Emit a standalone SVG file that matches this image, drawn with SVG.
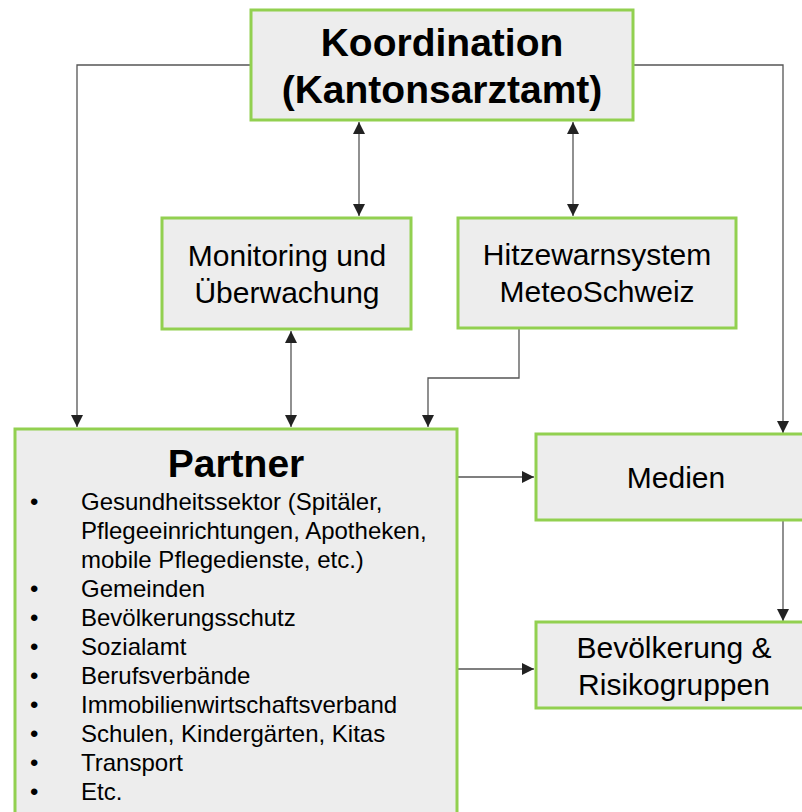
<svg xmlns="http://www.w3.org/2000/svg" width="802" height="812" viewBox="0 0 802 812">
<style>
.box{fill:#EDEDED;stroke:#92D050;stroke-width:3}
.t{font-family:"Liberation Sans",Arial,sans-serif;fill:#000}
.c{text-anchor:middle}
.title{font-size:39px;font-weight:bold}
.lbl{font-size:30px}
.li{font-size:24px}
.con{fill:none;stroke:#555;stroke-width:1.3}
</style>
<defs>
<marker id="ah" viewBox="0 0 12 12" refX="12" refY="6" markerWidth="12" markerHeight="12" markerUnits="userSpaceOnUse" orient="auto-start-reverse">
<path d="M0,0 L12,6 L0,12 z" fill="#222"/>
</marker>
</defs>
<g id="connectors">
<path class="con" d="M251,65 H77 V427" marker-end="url(#ah)"/>
<path class="con" d="M633,65 H783 V433" marker-end="url(#ah)"/>
<path class="con" d="M359,122 V216" marker-start="url(#ah)" marker-end="url(#ah)"/>
<path class="con" d="M573,122 V216" marker-start="url(#ah)" marker-end="url(#ah)"/>
<path class="con" d="M291,331 V427" marker-start="url(#ah)" marker-end="url(#ah)"/>
<path class="con" d="M519,329 V378 H428 V427" marker-end="url(#ah)"/>
<path class="con" d="M458,477 H534" marker-end="url(#ah)"/>
<path class="con" d="M458,669 H534" marker-end="url(#ah)"/>
<path class="con" d="M783,521 V621" marker-end="url(#ah)"/>
</g>
<g id="koordination">
<rect class="box" x="251" y="10" width="382" height="110"/>
<text class="t c title" x="442" y="56">Koordination</text>
<text class="t c title" x="442" y="103">(Kantonsarztamt)</text>
</g>
<g id="monitoring">
<rect class="box" x="162" y="218" width="249" height="111"/>
<text class="t c lbl" x="287" y="266">Monitoring und</text>
<text class="t c lbl" x="287" y="303">Überwachung</text>
</g>
<g id="hitzewarnsystem">
<rect class="box" x="458" y="218" width="278" height="110"/>
<text class="t c lbl" x="597" y="265">Hitzewarnsystem</text>
<text class="t c lbl" x="597" y="302">MeteoSchweiz</text>
</g>
<g id="partner">
<rect class="box" x="15" y="429" width="442" height="400"/>
<text class="t c title" x="236" y="477">Partner</text>
<g class="t li">
<text x="30" y="510">•</text><text x="81" y="510">Gesundheitssektor (Spitäler,</text>
<text x="81" y="539">Pflegeeinrichtungen, Apotheken,</text>
<text x="81" y="568">mobile Pflegedienste, etc.)</text>
<text x="30" y="597">•</text><text x="81" y="597">Gemeinden</text>
<text x="30" y="626">•</text><text x="81" y="626">Bevölkerungsschutz</text>
<text x="30" y="655">•</text><text x="81" y="655">Sozialamt</text>
<text x="30" y="684">•</text><text x="81" y="684">Berufsverbände</text>
<text x="30" y="713">•</text><text x="81" y="713">Immobilienwirtschaftsverband</text>
<text x="30" y="742">•</text><text x="81" y="742">Schulen, Kindergärten, Kitas</text>
<text x="30" y="771">•</text><text x="81" y="771">Transport</text>
<text x="30" y="800">•</text><text x="81" y="800">Etc.</text>
</g>
</g>
<g id="medien">
<rect class="box" x="536" y="434" width="282" height="86"/>
<text class="t c lbl" x="676" y="488">Medien</text>
</g>
<g id="bevoelkerung">
<rect class="box" x="536" y="622" width="282" height="86"/>
<text class="t c lbl" x="674" y="658">Bevölkerung &amp;</text>
<text class="t c lbl" x="674" y="695">Risikogruppen</text>
</g>
</svg>
